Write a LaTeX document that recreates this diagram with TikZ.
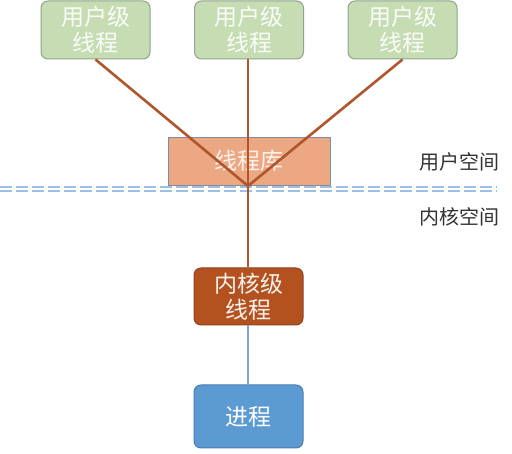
\documentclass[tikz,border=0pt]{standalone}
\usepackage{fontspec}
\setmainfont{Noto Sans CJK SC}
\usepackage{xcolor}
\definecolor{ut-fill}{HTML}{C6DCB2}
\definecolor{ut-line}{HTML}{8FA58C}
\definecolor{lib-fill}{HTML}{EBA883}
\definecolor{lib-line}{HTML}{7D8CA3}
\definecolor{kt-fill}{HTML}{B4521F}
\definecolor{kt-line}{HTML}{8E4423}
\definecolor{proc-fill}{HTML}{5C9AD2}
\definecolor{proc-line}{HTML}{4A7DAE}
\definecolor{link-brown}{HTML}{B0552C}
\definecolor{link-blue}{HTML}{7FA6CE}
\definecolor{sep-blue}{HTML}{9DC0E2}
\usepackage{tikz}
\usetikzlibrary{positioning,calc}

\begin{document}
\begin{tikzpicture}[x=1pt, y=-1pt,
  box/.style={rectangle, rounded corners=7pt, line width=1pt, align=center,
              minimum width=109pt, text=white,
              font=\fontsize{23}{26}\selectfont},
  uthread/.style={box, draw=ut-line, fill=ut-fill, minimum height=58pt, text=white!92!ut-fill},
  lib/.style={rectangle, draw=lib-line, fill=lib-fill, line width=0.8pt,
              minimum width=162pt, minimum height=48pt, text=white!85!lib-fill,
              font=\fontsize{23}{26}\selectfont},
  kthread/.style={box, draw=kt-line, fill=kt-fill, minimum height=57pt, text=white!92!kt-fill},
  proc/.style={box, draw=proc-line, fill=proc-fill, minimum height=63pt},
  space/.style={font=\fontsize{20}{24}\selectfont, text=black!80},
  link/.style={link-brown, line width=2.6pt},
  klink/.style={link-blue, line width=2.4pt},
  sep/.style={sep-blue, line width=2.2pt, dash pattern=on 12pt off 4pt}]

  \useasboundingbox (0,0) rectangle (512,454);

  \node[uthread] (ut1) at (95.5,30) {用户级\\线程};
  \node[uthread] (ut2) at (249,30) {用户级\\线程};
  \node[uthread] (ut3) at (402.5,30) {用户级\\线程};
  \node[lib] (lib) at (249,161) {线程库};
  \node[kthread] (kt) at (248.5,296.5) {内核级\\线程};
  \node[proc] (proc) at (248.5,416.5) {进程};

  \node[space] (us) at (459,162) {用户空间};
  \node[space] (ks) at (459,217) {内核空间};

  \coordinate (meet) at (248,186);
  \coordinate (sepL) at (0,189);
  \coordinate (sepR) at (497,189);

  \draw[sep] ([yshift=2.2pt]sepL) -- ([yshift=2.2pt]sepR);
  \draw[sep] ([yshift=-2.2pt]sepL) -- ([yshift=-2.2pt]sepR);

  \draw[link] (ut1.south) -- (meet);
  \draw[link] (ut3.south) -- (meet);
  \draw[link] (ut2.south -| meet) -- (kt.north -| meet);
  \draw[klink] (kt.south -| meet) -- (proc.north -| meet);

\end{tikzpicture}
\end{document}
